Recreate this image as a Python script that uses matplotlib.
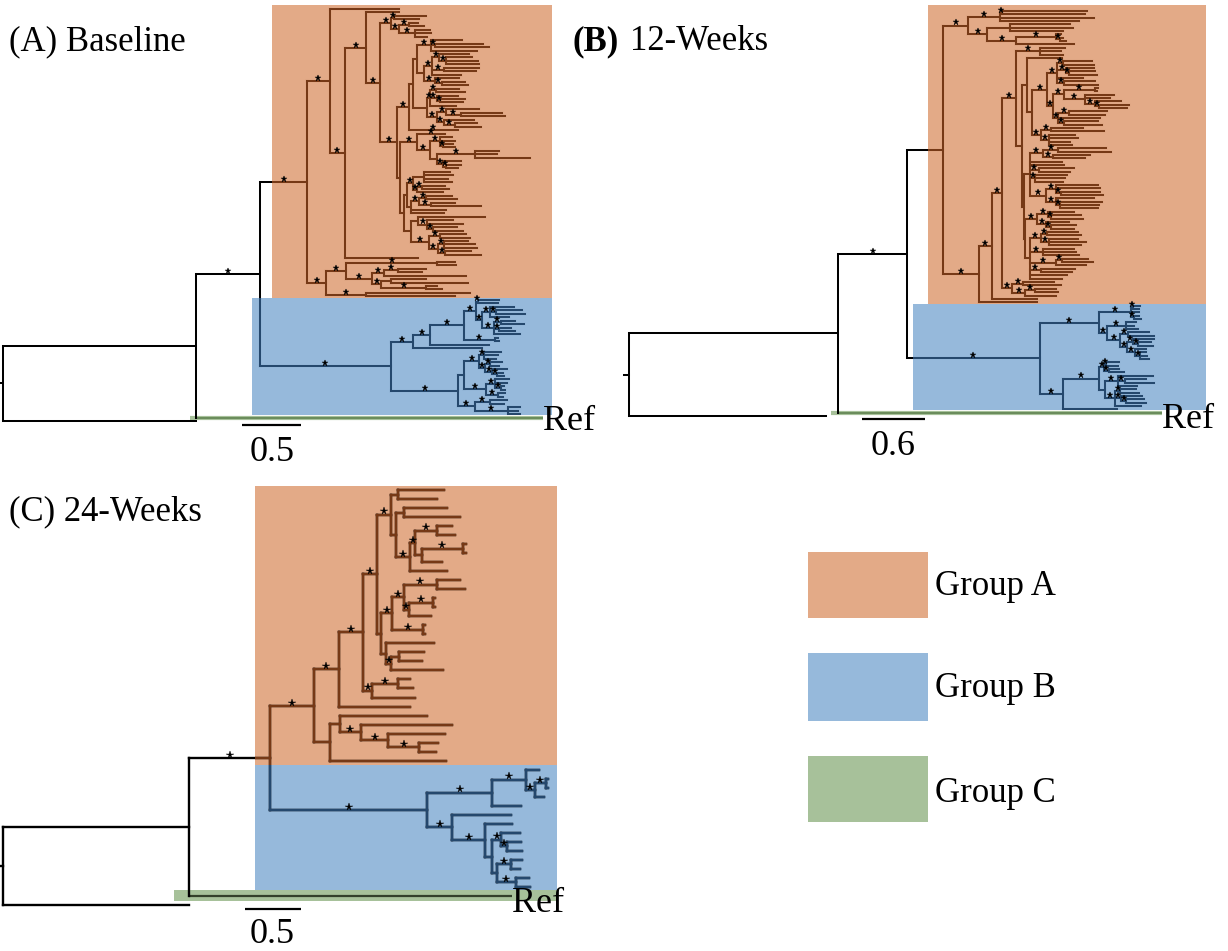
import matplotlib
matplotlib.use("Agg")
import matplotlib.pyplot as plt
from matplotlib.collections import LineCollection
from matplotlib.patches import Rectangle
from matplotlib.transforms import offset_copy

# ---------------------------------------------------------------------------
# Trees (Newick, branch lengths in substitutions/site, "*" = supported node)
# ---------------------------------------------------------------------------

# (A) Baseline -- Group A sub-clades
A_R = "((:0.27,:0.21)*:0.03,((:0.08,:0.13)*:0.08,(:0.13,:0.14,:0.11)*:0.13)*:0.07)"
A_T1A = ("((:0.26,(:0.41,:0.46)*:0.03,:0.39)*:0.12,"
         "(((:0.25,(:0.22,:0.27,:0.28)*:0.06)*:0.06,(:0.3,:0.27)*:0.1,:0.24)*:0.07,"
         "(:0.21,(:0.2,:0.22)*:0.06)*:0.09):0.06)")
A_T1B = ("(((:0.2,:0.25)*:0.05,(:0.18,(:0.21,:0.19)*:0.03)*:0.06,:0.22)*:0.02,"
         "((:0.28,(:0.35,:0.38)*:0.12)*:0.08,(:0.25,(:0.19,:0.22)*:0.09)*:0.06)*:0.08)")
A_U1 = ("(*:0.24,((:0.1,:0.13,(:0.08,:0.1)*:0.03)*:0.085,"
        "((:0.21,:0.19,:0.47)*:0.32,(:0.15,(:0.12,:0.1)*:0.03)*:0.05):0.06)*:0.11)")
A_U2A = ("(((:0.22,:0.25,:0.2,:0.24):0.09,((:0.2,:0.23)*:0.04,:0.22)*:0.03)*:0.05,"
         "(((:0.22,:0.26)*:0.06,(:0.2,:0.42)*:0.1)*:0.07,:0.3,:0.28):0.03)")
A_U2B = ("((:0.57,(:0.22,:0.3,(:0.2,:0.25)*:0.05)*:0.08):0.06,"
         "((:0.22,:0.25)*:0.1,((:0.2,:0.26,:0.28)*:0.05,(:0.22,:0.3)*:0.06)*:0.08)*:0.15)")
A_B2 = ("((:0.15,:0.16)*:0.77,(((:0.24,:0.2)*:0.12,:0.7)*:0.1,"
        "((:0.3,:0.65):0.08,(:0.09,:0.13)*:0.38)*:0.08)*:0.22)")
# (A) Baseline -- Group B sub-clades
A_GB_TOP = ("((:0.18,:0.17)*:0.02,((:0.2,(:0.22,:0.25)*:0.05,:0.16)*:0.07,"
            "((:0.12,:0.2)*:0.06,(:0.1,:0.13)*:0.05,:0.22)*:0.1)*:0.05)")
A_GB2 = ("((((:0.14,:0.12,:0.1)*:0.04,((:0.1,:0.08)*:0.04,(:0.12,(:0.05,:0.06)*:0.04)*:0.06)*:0.05)*:0.13,"
         "((:0.12,:0.1,(:0.03,:0.04)*:0.05)*:0.07,(:0.06,:0.04)*:0.1)*:0.19):0.05,"
         "((:0.14,:0.12)*:0.13,(:0.1,:0.09,:0.1)*:0.28)*:0.14)")

A_T1 = "(" + A_T1A + ":0.03," + A_T1B + ":0.12)"
A_U2 = "(" + A_U2A + ":0.03," + A_U2B + ":0.06)"
A_T = "(" + A_T1 + ":0.04,*:0.42)"
A_U = "(" + A_U1 + "*:0.14," + A_U2 + ":0.03)"
A_S = "(" + A_T + "*:0.10," + A_U + ":0.03)"
A_Q = "(" + A_R + "*:0.09," + A_S + "*:0.14)"
A_P = "(:0.28," + A_Q + "*:0.12)"
A_A2 = "(" + A_P + "*:0.18,:0.62)"
A_A1 = "(:0.59," + A_A2 + "*:0.13)"
A_B1 = "(" + A_B2 + "*:0.17,(:0.88,:0.75)*:0.34)"
A_GROUP_A = "(" + A_A1 + "*:0.19," + A_B1 + "*:0.16)"
A_GB1 = "(((" + A_GB_TOP + "*:0.1,(:0.03,:0.04)*:0.26)*:0.29,:0.5)*:0.14,:0.58)"
A_GROUP_B = "(" + A_GB1 + "*:0.19," + A_GB2 + "*:0.57)"

# (B) 12-Weeks -- Group A sub-clades
B_TOP = ("(((:0.81,:0.79)*:0.02,:0.9,:0.76)*:0.3,((:0.57,:0.6,:0.5):0.22,"
         "((:0.04,(:0.03,:0.06)*:0.03)*:0.38,:0.55)*:0.28)*:0.18)")
B_H_UP = "(:0.24,:0.2,:0.22)"
B_I2A1 = "((:0.28,:0.3)*:0.05,(:0.27,(:0.25,:0.27)*:0.03)*:0.08,:0.24,(:0.3,:0.33)*:0.06)"
B_I2A2 = ("(((:0.03,:0.02)*:0.3,(:0.28,:0.24,(:0.25,(:0.28,:0.26)*:0.04)*:0.1)*:0.2)*:0.1,"
          "((:0.36,:0.34)*:0.1,:0.4,(:0.33,:0.36)*:0.05)*:0.05)")
B_I2B = "((:0.3,:0.5)*:0.1,(:0.25,:0.28,:0.2,:0.22)*:0.08)"
B_J = ("(((:0.45,:0.5)*:0.15,(:0.35,:0.3)*:0.1)*:0.12,:0.3,:0.32,(:0.34,:0.3)*:0.08,"
       "(:0.3,:0.28,:0.26)*:0.05,((:0.4,:0.42,(:0.38,:0.4)*:0.04)*:0.1,"
       "(:0.36,(:0.4,:0.38,:0.37)*:0.03)*:0.1)*:0.15)")
B_K = ("(((:0.25,(:0.28,:0.3)*:0.03)*:0.1,(:0.22,(:0.24,:0.22)*:0.05)*:0.08)*:0.12,"
       "(((:0.3,:0.32)*:0.06,(:0.28,:0.35,:0.3)*:0.08)*:0.1,(:0.3,:0.32,:0.35)*:0.12,"
       "((:0.25,:0.3)*:0.05,:0.28)*:0.25,(:0.33,:0.3)*:0.1,:0.35,:0.3):0.05)")
B_SMALL = "((:0.3,:0.36)*:0.1,((:0.2,:0.22)*:0.1,:0.3)*:0.12)"
# (B) 12-Weeks -- Group B sub-clades
B_GB1 = ("(((:0.07,:0.06)*:0.02,:0.08,(:0.05,:0.07)*:0.03)*:0.3,((:0.1,:0.08,:0.12)*:0.18,"
         "((:0.2,:0.25)*:0.07,((:0.2,(:0.12,:0.14)*:0.05)*:0.06,"
         "(:0.1,(:0.05,:0.06,:0.08)*:0.05)*:0.08)*:0.06)*:0.13)*:0.07)")
B_GB2 = ("((((:0.13,:0.12)*:0.02,(:0.1,:0.14)*:0.05)*:0.04,((:0.33,(:0.2,:0.28)*:0.06,:0.18)*:0.13,"
         "((:0.15,:0.18)*:0.05,(:0.2,(:0.17,:0.19)*:0.04)*:0.06,:0.25)*:0.1):0.05)*:0.35,:0.52)")

B_I = "(:0.33,(" + "(" + B_I2A1 + "*:0.1," + B_I2A2 + "*:0.06)" + "*:0.14," + B_I2B + "*:0.08):0.05)"
B_JK = "(" + B_J + ":0.06," + B_K + ":0.01)"
B_H = "(" + B_H_UP + "*:0.22,(" + B_I + ":0.05," + B_JK + ":0.02):0.05)"
B_2A1 = "(" + B_H + "*:0.14," + B_SMALL + "*:0.1)"
B_2 = "((" + B_2A1 + "*:0.09,:0.43)*:0.13,:0.56)"
B_GROUP_A = "(" + B_TOP + "*:0.24," + B_2 + "*:0.34)"
B_GROUP_B = "(" + B_GB1 + "*:0.57," + B_GB2 + "*:0.22)"

# (C) 24-Weeks -- Group A
C_N523 = "((:0.03,:0.03)*:0.37,:0.18)"
C_N485 = "(((:0.13,:0.16)*:0.2," + C_N523 + ":0.06)*:0.04,:0.33)"
C_N432 = "((:0.41,:0.35):0.06,((:0.39,:0.5):0.07," + C_N485 + "*:0.13):0.04)"
C_N465 = "((:0.2,:0.25)*:0.3,((:0.02,:0.02)*:0.21,:0.19)*:0.05)"
C_N400 = "((" + C_N465 + "*:0.1,(:0.02,:0.02)*:0.27)*:0.1,(:0.43,((:0.22,:0.2):0.07,:0.46)*:0.05):0.04)"
C_N347 = "((" + C_N432 + "*:0.13," + C_N400 + ":0.04)*:0.12,((:0.11,:0.13)*:0.23,:0.38)*:0.08)"
C_N247 = "((:0.78,(:0.81,(:0.51,(:0.17,:0.15)*:0.28)*:0.24)*:0.19):0.09,:1.04)"
C_GROUP_A = "((" + C_N347 + "*:0.22,:0.64)*:0.22," + C_N247 + ":0.14)"
# (C) 24-Weeks -- Group B
C_N400B = "((:0.12,((:0.02,:0.02)*:0.1,:0.08)*:0.08)*:0.3,:0.26)"
C_N403 = "((:0.17,(:0.13,:0.14)*:0.05)*:0.08,((:0.1,:0.08)*:0.13,(:0.12,:0.13)*:0.17):0.04)"
C_GROUP_B = "(" + C_N400B + "*:0.58,(:0.53,(:0.24," + C_N403 + ":0.06)*:0.3)*:0.22)"

# Backbone branch lengths: root->outgroup, root->ingroup, ingroup->(A,B), Ref, stems of A and B
BACKBONE_A = dict(root_out=1.64, root_in=1.64, inner=0.54, ref=2.94, stem_a=0.40, stem_b=1.11)
BACKBONE_B = dict(root_out=1.88, root_in=1.99, inner=0.66, ref=3.09, stem_a=0.34, stem_b=1.26)
BACKBONE_C = dict(root_out=1.66, root_in=1.66, inner=0.73, ref=2.89, stem_a=0.39, stem_b=1.40)
SUPPORT_A = dict(inner=True, stem_a=True, stem_b=True)
SUPPORT_B = dict(inner=True, stem_a=False, stem_b=True)
SUPPORT_C = dict(inner=True, stem_a=True, stem_b=True)

PANEL_TITLES = ["(A) Baseline", "12-Weeks", "(C) 24-Weeks"]
SCALE_VALUES = [0.5, 0.6, 0.5]
LEGEND_LABELS = ["Group A", "Group B", "Group C"]

# ---------------------------------------------------------------------------
ORANGE = "#E3AA87"
BLUE = "#96B9DB"
GREEN = "#A7C19A"
BROWN = "#763916"
NAVY = "#25486D"
SERIF = ["Liberation Serif", "DejaVu Serif"]

W, H, DPI = 1228, 951, 100
fig = plt.figure(figsize=(W / DPI, H / DPI), dpi=DPI)
fig.patch.set_facecolor("white")


def parse_newick(text):
    s = "".join(text.split())
    pos = 0

    def read():
        nonlocal pos
        node = {"children": [], "label": "", "length": 0.0}
        if s[pos] == "(":
            pos += 1
            node["children"].append(read())
            while s[pos] == ",":
                pos += 1
                node["children"].append(read())
            assert s[pos] == ")"
            pos += 1
        start = pos
        while pos < len(s) and s[pos] not in ":,();":
            pos += 1
        node["label"] = s[start:pos]
        if pos < len(s) and s[pos] == ":":
            pos += 1
            start = pos
            while pos < len(s) and s[pos] not in ",();":
                pos += 1
            node["length"] = float(s[start:pos])
        return node

    tree = read()
    assert pos == len(s), "unbalanced newick"
    return tree


def leaf(length, label=""):
    return {"children": [], "label": label, "length": length}


def build_tree(group_a, group_b, bb, sup):
    ga = parse_newick(group_a)
    ga["length"], ga["label"] = bb["stem_a"], "*" if sup["stem_a"] else ""
    gb = parse_newick(group_b)
    gb["length"], gb["label"] = bb["stem_b"], "*" if sup["stem_b"] else ""
    inner = {"children": [ga, gb], "label": "*" if sup["inner"] else "", "length": bb["inner"]}
    ref = leaf(bb["ref"])
    ingroup = {"children": [inner, ref], "label": "", "length": bb["root_in"]}
    root = {"children": [ingroup, leaf(bb["root_out"])], "label": "", "length": 0.0}
    return root, ga, gb, ref


def layout(node, parent_x, leaves):
    node["px"] = parent_x
    node["x"] = parent_x + node["length"]
    for c in node["children"]:
        layout(c, node["x"], leaves)
    if node["children"]:
        node["y"] = 0.5 * (node["children"][0]["y"] + node["children"][-1]["y"])
    else:
        node["y"] = float(len(leaves))
        leaves.append(node)


def leaf_span(node):
    if not node["children"]:
        return node["y"], node["y"]
    lo = leaf_span(node["children"][0])[0]
    hi = leaf_span(node["children"][-1])[1]
    return lo, hi


def draw_panel(tree_parts, cfg):
    root, ga, gb, ref = build_tree(*tree_parts)
    leaves = []
    layout(root, 0.0, leaves)
    n = len(leaves)
    ppu = cfg["ppu"]
    step = (cfg["leaf_last"] - cfg["leaf_first"]) / (n - 1)

    ax = fig.add_axes([0, 0, 1, 1])
    ax.set_axis_off()
    ax.patch.set_alpha(0)
    x0 = -cfg["root_px"] / ppu
    ax.set_xlim(x0, x0 + W / ppu)
    top = -cfg["leaf_first"] / step
    ax.set_ylim(top + H / step, top)

    def row(px):
        return px / step + top

    # coloured clade boxes
    a_lo, a_hi = leaf_span(ga)
    b_lo, b_hi = leaf_span(gb)
    split = 0.5 * (a_hi + b_lo)
    y_top = a_lo - cfg["top_margin"]
    y_bot = ref["y"] - cfg["bottom_margin"]
    right = cfg["box_right"]
    rect_a = Rectangle((cfg["box_a_left"], y_top), right - cfg["box_a_left"], split - y_top,
                       fc=ORANGE, ec="none", zorder=0)
    rect_b = Rectangle((cfg["box_b_left"], split), right - cfg["box_b_left"], y_bot - split,
                       fc=BLUE, ec="none", zorder=0)
    ax.add_patch(rect_a)
    ax.add_patch(rect_b)

    # Ref lineage (Group C)
    if cfg["band"] == "line":
        ax.plot([cfg["band_left"], ref["x"]], [ref["y"], ref["y"]], color=GREEN,
                lw=cfg["band_lw"], solid_capstyle="butt", zorder=1)
    else:
        ax.add_patch(Rectangle((cfg["band_left"], ref["y"] - cfg["band_up"]),
                               right - cfg["band_left"], cfg["band_up"] + cfg["band_down"],
                               fc=GREEN, ec="none", zorder=1))
    ax.plot([ref["px"], ref["x"]], [ref["y"], ref["y"]], color=cfg["ref_color"],
            lw=cfg["ref_lw"], solid_capstyle="butt", zorder=2)

    # branches
    segs, stars = [], []

    def walk(nd):
        if nd is not root and nd is not ref:
            segs.append([(nd["px"], nd["y"]), (nd["x"], nd["y"])])
        if nd["children"]:
            segs.append([(nd["x"], nd["children"][0]["y"]), (nd["x"], nd["children"][-1]["y"])])
        if nd["label"] == "*":
            stars.append((0.5 * (nd["px"] + nd["x"]), nd["y"]))
        for c in nd["children"]:
            walk(c)

    walk(root)
    segs.append([(-cfg["stub"], root["y"]), (0.0, root["y"])])

    for color, clip, z in (("black", None, 2), (BROWN, rect_a, 3), (NAVY, rect_b, 3)):
        lc = LineCollection(segs, colors=color, linewidths=cfg["lw"], capstyle="projecting", zorder=z)
        ax.add_collection(lc)
        if clip is not None:
            lc.set_clip_path(clip)

    # support stars
    tr_star = offset_copy(ax.transData, fig=fig, x=0, y=cfg["star_dy"], units="points")
    sx, sy = zip(*stars)
    ax.plot(sx, sy, ls="none", marker="*", ms=cfg["star_ms"], color="black",
            mec="black", mew=0.3, transform=tr_star, zorder=4)

    # Ref label
    tr_ref = offset_copy(ax.transData, fig=fig, x=0, y=-cfg["ref_dy"], units="points")
    ax.text(ref["x"], ref["y"], "Ref", transform=tr_ref, ha="left", va="baseline",
            fontsize=26, family=SERIF, zorder=5)

    # scale bar
    by = row(cfg["bar_px"])
    ax.plot([cfg["bar_x"], cfg["bar_x"] + cfg["scale"]], [by, by], color="black", lw=1.6,
            solid_capstyle="butt")
    ax.text(cfg["bar_x"] + cfg["scale"] / 2, row(cfg["bar_label_px"]), f"{cfg['scale']}",
            ha="center", va="baseline", fontsize=26, family=SERIF)


PANEL_STYLE_A = dict(root_px=2.7, ppu=118, leaf_first=9, leaf_last=421,
                     box_a_left=2.28, box_b_left=2.11, box_right=4.655,
                     top_margin=1.2, bottom_margin=0.85,
                     band="line", band_left=1.59, band_lw=3.0,
                     ref_color="#5F8250", ref_lw=1.2, lw=1.45, stub=0.025,
                     star_ms=5.0, star_dy=2.2, ref_dy=9.0,
                     bar_x=2.03, bar_px=425, bar_label_px=461, scale=SCALE_VALUES[0])
PANEL_STYLE_B = dict(root_px=629, ppu=105, leaf_first=11, leaf_last=416,
                     box_a_left=2.848, box_b_left=2.705, box_right=5.495,
                     top_margin=1.8, bottom_margin=0.9,
                     band="line", band_left=1.92, band_lw=3.0,
                     ref_color="#5F8250", ref_lw=1.2, lw=1.45, stub=0.05,
                     star_ms=5.0, star_dy=2.2, ref_dy=11.0,
                     bar_x=2.22, bar_px=419, bar_label_px=455, scale=SCALE_VALUES[1])
PANEL_STYLE_C = dict(root_px=2.7, ppu=112, leaf_first=490, leaf_last=905,
                     box_a_left=2.25, box_b_left=2.25, box_right=4.95,
                     top_margin=0.45, bottom_margin=0.67,
                     band="rect", band_left=1.53, band_up=0.67, band_down=0.55,
                     ref_color="#33402A", ref_lw=1.6, lw=1.7, stub=0.025,
                     star_ms=5.5, star_dy=2.4, ref_dy=11.5,
                     bar_x=2.16, bar_px=909, bar_label_px=943, scale=SCALE_VALUES[2])

draw_panel((A_GROUP_A, A_GROUP_B, BACKBONE_A, SUPPORT_A), PANEL_STYLE_A)
draw_panel((B_GROUP_A, B_GROUP_B, BACKBONE_B, SUPPORT_B), PANEL_STYLE_B)
draw_panel((C_GROUP_A, C_GROUP_B, BACKBONE_C, SUPPORT_C), PANEL_STYLE_C)

# panel titles
fig.text(9 / W, 1 - 50 / H, PANEL_TITLES[0], fontsize=25, family=SERIF, va="baseline")
fig.text(572 / W, 1 - 50 / H, "(B)", fontsize=25, family=SERIF, fontweight="bold", va="baseline")
fig.text(630 / W, 1 - 50 / H, PANEL_TITLES[1], fontsize=25, family=SERIF, va="baseline")
fig.text(9 / W, 1 - 520 / H, PANEL_TITLES[2], fontsize=25, family=SERIF, va="baseline")

# legend
leg = fig.add_axes([0, 0, 1, 1])
leg.set_axis_off()
leg.patch.set_alpha(0)
leg.set_xlim(0, W)
leg.set_ylim(H, 0)
for label, color, (y0, y1), base in zip(LEGEND_LABELS, [ORANGE, BLUE, GREEN],
                                         [(552, 618), (653, 721), (756, 822)], [595, 697, 802]):
    leg.add_patch(Rectangle((808, y0), 120, y1 - y0, fc=color, ec="none"))
    leg.text(935, base, label, fontsize=25, family=SERIF, va="baseline", ha="left")

fig.savefig("out.png", dpi=DPI)
